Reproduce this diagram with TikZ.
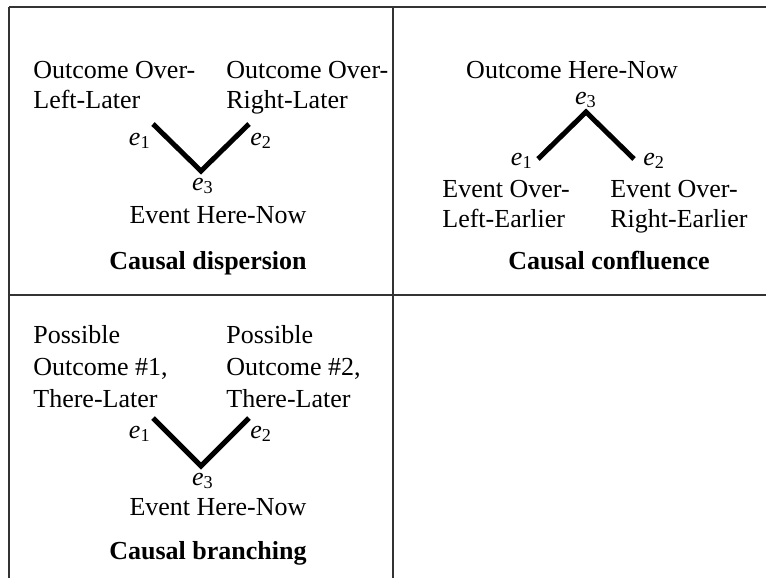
\documentclass[tikz,border=0pt]{standalone}
\usepackage{fontspec}
\setmainfont{Liberation Serif}
\newcommand{\evlabel}[1]{\textit{e}\textsubscript{#1}}
\begin{document}
\begin{tikzpicture}[x=0.5pt, y=-0.5pt,
  txt/.style={inner sep=0pt, anchor=base west, align=left, font=\fontsize{13}{15}\selectfont},
  evt/.style={inner sep=0pt, font=\fontsize{13}{15}\selectfont},
  caption/.style={inner sep=0pt, anchor=base, font=\fontsize{13}{15}\selectfont\bfseries},
  stem/.style={line width=2.5pt},
  rule/.style={draw=black!80, line width=0.9pt}]

  \useasboundingbox (0,0) rectangle (766,578);

  % Table rules
  \coordinate (TL) at (9,7);
  \coordinate (TM) at (393,7);
  \coordinate (TR) at (766,7);
  \coordinate (ML) at (9,295);
  \coordinate (MR) at (766,295);
  \coordinate (BL) at (9,578);
  \coordinate (BM) at (393,578);
  \draw[rule] (TL) -- (TR);
  \draw[rule] (TL) -- (BL);
  \draw[rule] (TM) -- (BM);
  \draw[rule] (ML) -- (MR);

  % Causal dispersion
  \coordinate (D1) at (153,124);
  \coordinate (D2) at (249,124);
  \coordinate (D3) at (201,171);
  \node[txt] (DL) at (33,108) {Outcome Over-\\Left-Later};
  \node[txt] (DR) at (226,108) {Outcome Over-\\Right-Later};
  \node[evt, anchor=base east] (d1) at (151,145) {\evlabel{1}};
  \node[evt, anchor=base west] (d2) at (250,145) {\evlabel{2}};
  \node[evt, anchor=base] (d3) at (203,190) {\evlabel{3}};
  \node[evt, anchor=base] (DE) at (218,223) {Event Here-Now};
  \node[caption] (DC) at (208,269) {Causal dispersion};
  \draw[stem] (D1) -- (D3) -- (D2);

  % Causal confluence
  \coordinate (C1) at (538,159);
  \coordinate (C2) at (634,159);
  \coordinate (C3) at (586,112);
  \node[evt, anchor=base] (CO) at (572,78) {Outcome Here-Now};
  \node[evt, anchor=base] (c3) at (586,104) {\evlabel{3}};
  \node[evt, anchor=base east] (c1) at (533,165) {\evlabel{1}};
  \node[evt, anchor=base west] (c2) at (643,165) {\evlabel{2}};
  \node[txt] (CL) at (442,227) {Event Over-\\Left-Earlier};
  \node[txt] (CR) at (610,227) {Event Over-\\Right-Earlier};
  \node[caption] (CC) at (609,269) {Causal confluence};
  \draw[stem] (C1) -- (C3) -- (C2);

  % Causal branching
  \coordinate (B1) at (153,418);
  \coordinate (B2) at (249,418);
  \coordinate (B3) at (201,466);
  \node[txt, font=\fontsize{13}{16}\selectfont] (BL) at (33,407) {Possible\\Outcome \#1,\\There-Later};
  \node[txt, font=\fontsize{13}{16}\selectfont] (BR) at (226,407) {Possible\\Outcome \#2,\\There-Later};
  \node[evt, anchor=base east] (b1) at (151,438) {\evlabel{1}};
  \node[evt, anchor=base west] (b2) at (250,438) {\evlabel{2}};
  \node[evt, anchor=base] (b3) at (203,485) {\evlabel{3}};
  \node[evt, anchor=base] (BE) at (218,515) {Event Here-Now};
  \node[caption] (BC) at (208,559) {Causal branching};
  \draw[stem] (B1) -- (B3) -- (B2);

\end{tikzpicture}
\end{document}
